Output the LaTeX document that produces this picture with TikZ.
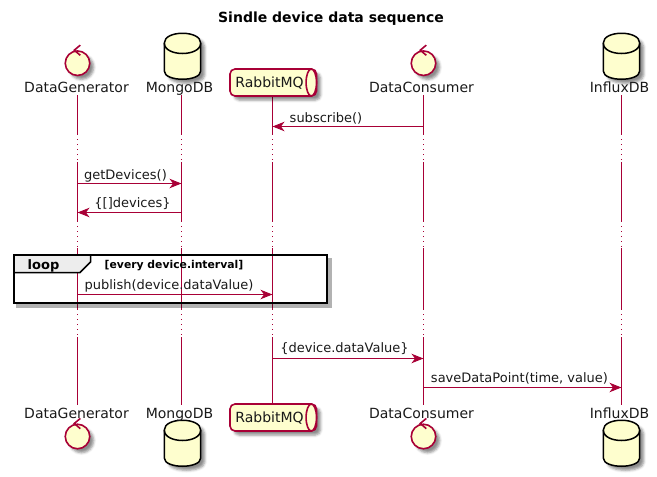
\documentclass[tikz,border=0pt]{standalone}
\usepackage{fontspec}
\setmainfont{DejaVu Sans}
\usetikzlibrary{arrows.meta,shadows,shadows.blur}
\definecolor{umlred}{HTML}{A80036}
\definecolor{umlfill}{HTML}{FEFECE}
\tikzset{
  lifeline/.style={draw=umlred,line width=1pt,dash pattern=on 40pt off 4pt on 1pt off 4pt on 1pt off 4pt on 1pt off 4pt on 1pt off 4pt on 1pt off 2pt on 60pt off 4pt on 1pt off 4pt on 1pt off 4pt on 1pt off 4pt on 1pt off 4pt on 1pt off 1pt on 62pt off 4pt on 1pt off 4pt on 1pt off 4pt on 1pt off 4pt on 1pt off 4pt on 1pt off 2pt on 70pt},
  msg/.style={draw=umlred,line width=1pt,-{Stealth[length=12pt,width=9.5pt,inset=3.5pt]}},
  msglabel/.style={font=\fontsize{13}{15}\selectfont,text=black!90,inner sep=0pt,anchor=base},
  partlabel/.style={font=\fontsize{14}{16}\selectfont,text=black!90,inner sep=0pt,anchor=base},
  softshadow/.style={blur shadow={shadow xshift=4pt,shadow yshift=-4pt,shadow blur radius=2.5pt,shadow opacity=45}},
  partshape/.style={draw=umlred,fill=umlfill,line width=1.6pt,softshadow},
  dbshape/.style={draw=black,fill=umlfill,line width=1.5pt,softshadow}
}
\newcommand{\controlicon}[2]{
  \node[partshape,circle,minimum size=24.5pt,inner sep=0pt] (#2) at (#1) {};
  \draw[umlred,line width=1.6pt] ([shift={(2.8,5.2)}]#2.north) -- ([shift={(-3.2,0)}]#2.north) -- ([shift={(2.8,-5)}]#2.north);
}
\newcommand{\dbicon}[1]{
  \path[dbshape] ([shift={(-18.2,-13)}]#1) .. controls ([shift={(-18.2,-26)}]#1) and ([shift={(18.2,-26)}]#1) .. ([shift={(18.2,-13)}]#1)
    -- ([shift={(18.2,15)}]#1) .. controls ([shift={(18.2,26)}]#1) and ([shift={(-18.2,26)}]#1) .. ([shift={(-18.2,15)}]#1) -- cycle;
  \draw[black,line width=1.5pt] ([shift={(-18.2,-13)}]#1) .. controls ([shift={(-18.2,1)}]#1) and ([shift={(18.2,1)}]#1) .. ([shift={(18.2,-13)}]#1);
}
\newcommand{\queueicon}[1]{
  \path[partshape,rounded corners=5pt] ([shift={(-42.5,-13.5)}]#1) -- ([shift={(44,-13.5)}]#1) -- ([shift={(44,13.5)}]#1) -- ([shift={(-42.5,13.5)}]#1) -- cycle;
  \draw[umlred,line width=1.6pt,fill=umlfill] ([shift={(38.8,0)}]#1) ellipse (5.2pt and 13.5pt);
}
\begin{document}
\begin{tikzpicture}[x=1pt,y=-1pt]
\useasboundingbox (0,0) rectangle (657,477);
\node[font=\bfseries\fontsize{14}{16}\selectfont,anchor=base] (title) at (331,22.7) {Sindle device data sequence};

\coordinate (dgA) at (77.5,95);
\coordinate (mgA) at (181.5,95);
\coordinate (rbA) at (272.5,95);
\coordinate (dcA) at (423.5,95);
\coordinate (fxA) at (621.5,95);
\coordinate (dgB) at (77.5,405);
\coordinate (mgB) at (181.5,405);
\coordinate (rbB) at (272.5,405);
\coordinate (dcB) at (423.5,405);
\coordinate (fxB) at (621.5,405);

\draw[lifeline] (dgA) -- (dgB);
\draw[lifeline] (mgA) -- (mgB);
\draw[lifeline] (rbA) -- (rbB);
\draw[lifeline] (dcA) -- (dcB);
\draw[lifeline] (fxA) -- (fxB);

\controlicon{77.5,63.2}{dgIcon}
\dbicon{182.5,56}
\queueicon{272.5,82.5}
\node[partlabel] (rbTop) at (269.5,87.3) {RabbitMQ};
\controlicon{423.5,63.2}{dcIcon}
\dbicon{621.5,56}

\controlicon{77.5,436.5}{dgIconB}
\dbicon{182.5,443}
\queueicon{272.5,417.5}
\node[partlabel] (rbBot) at (269.5,422.7) {RabbitMQ};
\controlicon{423.5,436.5}{dcIconB}
\dbicon{621.5,443}

\node[partlabel] (dgTop) at (76.5,92.3) {DataGenerator};
\node[partlabel] (mgTop) at (179.5,92.3) {MongoDB};
\node[partlabel] (dcTop) at (421.5,92.3) {DataConsumer};
\node[partlabel] (fxTop) at (619.5,92.3) {InfluxDB};
\node[partlabel] (dgBot) at (76.5,418.3) {DataGenerator};
\node[partlabel] (mgBot) at (179.5,418.3) {MongoDB};
\node[partlabel] (dcBot) at (421.5,418.3) {DataConsumer};
\node[partlabel] (fxBot) at (619.5,418.3) {InfluxDB};

\coordinate (dc1) at (423.5,126.5);
\coordinate (rb1) at (272.5,126.5);
\coordinate (dg2) at (77.5,183.5);
\coordinate (mg2) at (181.5,183.5);
\coordinate (mg3) at (181.5,212.5);
\coordinate (dg3) at (77.5,212.5);
\coordinate (dg4) at (77.5,294.5);
\coordinate (rb4) at (272.5,294.5);
\coordinate (rb5) at (272.5,358.5);
\coordinate (dc5) at (423.5,358.5);
\coordinate (dc6) at (423.5,387.5);
\coordinate (fx6) at (621.5,387.5);

\draw[msg] (dc1) -- (rb1);
\draw[msg] (dg2) -- (mg2);
\draw[msg] (mg3) -- (dg3);
\draw[msg] (dg4) -- (rb4);
\draw[msg] (rb5) -- (dc5);
\draw[msg] (dc6) -- (fx6);

\node[msglabel] (subscribeTxt) at (326,122) {subscribe()};
\node[msglabel] (getTxt) at (125.5,179.5) {getDevices()};
\node[msglabel] (devTxt) at (132.5,207.7) {\{[]devices\}};
\node[msglabel] (pubTxt) at (169,289) {publish(device.dataValue)};
\node[msglabel] (valTxt) at (344.5,352.7) {\{device.dataValue\}};
\node[msglabel] (saveTxt) at (519.5,382) {saveDataPoint(time, value)};

\draw[black,line width=4pt,opacity=0.3] (329.5,258) -- (329.5,305.5) -- (16,305.5);
\fill[black!7] (13.5,255) -- (90.5,255) -- (90.5,262) -- (80,272.5) -- (13.5,272.5) -- cycle;
\draw[black,line width=1.5pt] (90.5,255) -- (90.5,262) -- (80,272.5) -- (13.5,272.5);
\draw[black,line width=2pt] (13.5,255) rectangle (326.5,302.5);
\node[font=\bfseries\fontsize{13}{15}\selectfont,inner sep=0pt,anchor=base] (loopTxt) at (43.5,269) {loop};
\node[font=\bfseries\fontsize{10.8}{13}\selectfont,inner sep=0pt,anchor=base] (guardTxt) at (174,268.3) {[every device.interval]};
\end{tikzpicture}
\end{document}
